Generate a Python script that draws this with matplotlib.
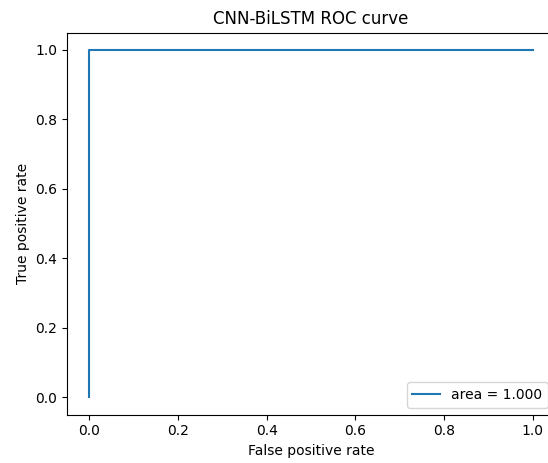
import matplotlib
matplotlib.use("Agg")
import matplotlib.pyplot as plt
import numpy as np

# ROC points
fpr = [0.0, 0.0, 1.0]
tpr = [0.0, 1.0, 1.0]
auc_value = 1.000

fig = plt.figure(figsize=(5.48, 4.63), dpi=100)
# right spine sits just past the cropped edge of the picture
ax = fig.add_axes([67 / 548, (463 - 414.5) / 463, (555 - 67) / 548, (414.5 - 32.5) / 463])

ax.plot(fpr, tpr, label="area = {:.3f}".format(auc_value))
ax.set_xlabel("False positive rate")
ax.set_ylabel("True positive rate")
ax.set_title("CNN-BiLSTM ROC curve")
ax.legend(loc="lower right")

fig.savefig("out.png", dpi=100)
